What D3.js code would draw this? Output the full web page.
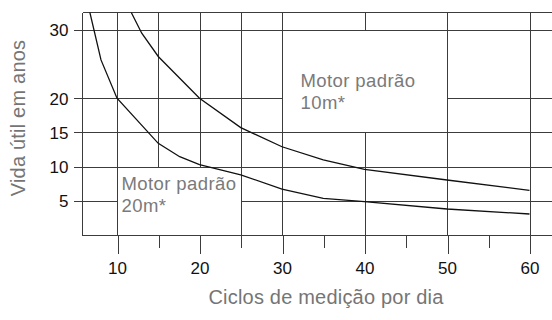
<!DOCTYPE html>
<html>
<head>
<meta charset="utf-8">
<script src="https://cdn.jsdelivr.net/npm/d3@7/dist/d3.min.js"></script>
<style>
  html, body { margin: 0; padding: 0; background: #fff; }
  svg { display: block; font-family: "Liberation Sans", Arial, Helvetica, sans-serif; }
  .tick text { fill: #111; font-size: 17px; }
  .title { fill: #757575; font-size: 20px; letter-spacing: 0.2px; }
  .note { fill: #7a7a7a; font-size: 18.5px; letter-spacing: 0.4px; }
</style>
</head>
<body>
<svg id="chart" width="552" height="320"></svg>
<script>
// Service life (years) against measuring cycles per day
const cycles20m = [6.7, 8.06, 10, 15, 17.6, 20, 25, 30, 35, 40, 50, 60];
const life20m   = [32.6, 25.6, 20, 13.4, 11.45, 10.3, 8.8, 6.7, 5.36, 4.87, 3.8, 3.07];
const cycles10m = [11.7, 13, 15, 20, 25, 30, 35, 40, 50, 60];
const life10m   = [32.6, 29.5, 26.1, 20, 15.7, 12.9, 11.0, 9.6, 8.04, 6.53];

const xMajorTicks = [10, 20, 30, 40, 50, 60];
const xMinorTicks = [15, 25, 35, 45, 55];
const yTicks = [5, 10, 15, 20, 30];

const xTitle = "Ciclos de medição por dia";
const yTitle = "Vida útil em anos";
const noteLines20m = ["Motor padrão", "20m*"];
const noteLines10m = ["Motor padrão", "10m*"];

const svg = d3.select("#chart");
const W = 552;

const x = d3.scaleLinear().domain([10, 60]).range([117, 529.5]);
const y = d3.scaleLinear().domain([0, 30]).range([235, 29.8]);

const xMin = 5.76, yMax = 32.55;          // plot frame limits in data units
const px = v => Math.round(x(v)) + 0.5;
const py = v => Math.round(y(v)) + 0.5;
const frameLeft = px(xMin), frameTop = py(yMax), frameBottom = py(0);

const grid = svg.append("g")
  .attr("stroke", "#3c3c3c")
  .attr("stroke-width", 1)
  .attr("shape-rendering", "crispEdges");

// horizontal rules: [value, x-from, x-to] pieces; gaps leave room for the notes
const hSegs = [
  [yMax, xMin, null],
  [30, null, null],
  [20, null, 30], [20, 50, null],
  [15, null, null],
  [10, null, null],
  [5, null, 10], [5, 25, null],
  [0, xMin, null]
];
hSegs.forEach(([v, a, b]) => {
  grid.append("line")
    .attr("x1", a === null ? frameLeft - 9 : px(a))
    .attr("x2", b === null ? W : px(b))
    .attr("y1", py(v)).attr("y2", py(v));
});

// vertical rules: [value, from, to] in data units
const vSegs = [
  [xMin, 0, yMax],
  [10, 0, yMax],
  [15, 10, yMax],
  [20, 10, yMax],
  [25, 0, yMax],
  [30, 0, yMax],
  [40, 30, yMax], [40, 0, 15],
  [50, 0, yMax],
  [60, 0, yMax]
];
vSegs.forEach(([v, a, b]) => {
  grid.append("line")
    .attr("x1", px(v)).attr("x2", px(v))
    .attr("y1", py(a)).attr("y2", py(b));
});

// bottom axis: long major ticks with labels, short minor ticks
const xAxis = svg.append("g")
  .attr("transform", `translate(0,${frameBottom})`)
  .call(d3.axisBottom(x).tickValues(xMajorTicks).tickSize(18).tickSizeOuter(0).tickPadding(8).tickFormat(d3.format("d")));
const xMinor = svg.append("g")
  .attr("transform", `translate(0,${frameBottom})`)
  .call(d3.axisBottom(x).tickValues(xMinorTicks).tickSize(12).tickSizeOuter(0).tickFormat(""));

// left axis labels
const yAxis = svg.append("g")
  .attr("transform", `translate(${frameLeft},0)`)
  .call(d3.axisLeft(y).tickValues(yTicks).tickSize(0).tickPadding(14).tickFormat(d3.format("d")));

[xAxis, xMinor, yAxis].forEach(g => {
  g.select(".domain").remove();
  g.selectAll(".tick line").attr("stroke", "#3c3c3c").attr("shape-rendering", "crispEdges")
    .attr("transform", "translate(0.5,0)");
  g.selectAll(".tick text").attr("font-family", null).attr("font-size", null);
});
yAxis.selectAll(".tick text").attr("dy", "0.36em");

// curves
svg.append("clipPath").attr("id", "plot")
  .append("rect").attr("x", frameLeft).attr("y", frameTop).attr("width", W - frameLeft).attr("height", frameBottom - frameTop);

const line = d3.line().x(d => x(d[0])).y(d => y(d[1]));
const curves = [d3.zip(cycles20m, life20m), d3.zip(cycles10m, life10m)];
svg.append("g").attr("clip-path", "url(#plot)")
  .selectAll("path").data(curves).join("path")
  .attr("d", line)
  .attr("fill", "none")
  .attr("stroke", "#111")
  .attr("stroke-width", 1.3);

// notes
function note(lines, nx, ny) {
  const t = svg.append("text").attr("class", "note");
  lines.forEach((s, i) => t.append("tspan").attr("x", nx).attr("y", ny + i * 22.5).text(s));
}
note(noteLines20m, 121.5, 189.5);
note(noteLines10m, 300.5, 86.5);

// axis titles
svg.append("text").attr("class", "title")
  .attr("text-anchor", "middle")
  .attr("x", 326).attr("y", 304)
  .text(xTitle);
svg.append("text").attr("class", "title")
  .attr("text-anchor", "middle")
  .attr("transform", "translate(25,118) rotate(-90)")
  .text(yTitle);
</script>
</body>
</html>
